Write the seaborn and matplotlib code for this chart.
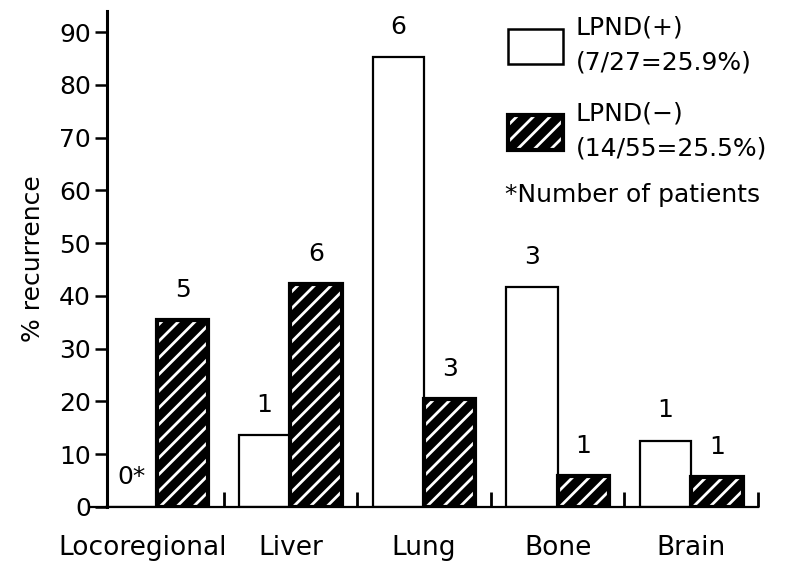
import matplotlib
matplotlib.use("Agg")
import matplotlib.pyplot as plt
import matplotlib.transforms as mtransforms
import seaborn as sns
import pandas as pd
from matplotlib.patches import Patch, Rectangle

# ---- data ----
sites = ["Locoregional", "Liver", "Lung", "Bone", "Brain"]
groups = ["LPND(+)\n(7/27=25.9%)", "LPND(\u2212)\n(14/55=25.5%)"]
lpnd_pos = [0.0, 13.6, 85.3, 41.6, 12.6]
lpnd_neg = [35.5, 42.2, 20.5, 5.9, 5.7]
n_pos = ["0*", "1", "6", "3", "1"]
n_neg = ["5", "6", "3", "1", "1"]
yticks = [0, 10, 20, 30, 40, 50, 60, 70, 80, 90]
footnote = "*Number of patients"

df = pd.DataFrame({
    "site": sites * 2,
    "group": [groups[0]] * len(sites) + [groups[1]] * len(sites),
    "value": lpnd_pos + lpnd_neg,
})

sns.set_style("white")
plt.rcParams["font.family"] = ["DejaVu Sans"]
plt.rcParams["hatch.linewidth"] = 2.0
for k in ["text.color", "axes.labelcolor", "xtick.color", "ytick.color"]:
    plt.rcParams[k] = "black"

fig = plt.figure(figsize=(8.06, 5.65), dpi=100)
ax = fig.add_axes([90 / 806, 1 - 507 / 565, (758 - 90) / 806, (507 - 11) / 565])

sns.barplot(data=df, x="site", y="value", hue="group", hue_order=groups,
            order=sites, palette={groups[0]: "white", groups[1]: "black"},
            width=0.77, edgecolor="black", linewidth=1.6, ax=ax,
            errorbar=None, legend=False)

pos_cont, neg_cont = ax.containers[0], ax.containers[1]
for p in neg_cont:
    p.set_facecolor("black")
    p.set_edgecolor("white")
    p.set_hatch("//")
    p.set_linewidth(0)
    ax.add_patch(Rectangle(p.get_xy(), p.get_width(), p.get_height(),
                           fill=False, edgecolor="black", linewidth=3.0,
                           zorder=p.get_zorder() + 0.1))

ax.bar_label(pos_cont, labels=n_pos, padding=13, fontsize=18)
ax.bar_label(neg_cont, labels=n_neg, padding=13, fontsize=18)

ax.set_xlim(-0.5, 4.5)
ax.set_ylim(0, 94)
ax.set_yticks(yticks)
ax.set_yticklabels([str(v) for v in yticks])
ax.set_xlabel("")
ax.set_ylabel("% recurrence", fontsize=18, labelpad=10)

for s in ["top", "right"]:
    ax.spines[s].set_visible(False)
ax.spines["left"].set_position(("data", -0.373))
ax.spines["left"].set_linewidth(2.2)
ax.spines["bottom"].set_linewidth(1.6)
ax.spines["left"].set_color("black")
ax.spines["bottom"].set_color("black")

ax.tick_params(axis="y", which="major", direction="out", length=8.5,
               width=1.8, pad=3, labelsize=18, left=True, colors="black")
ax.tick_params(axis="x", which="major", length=0, pad=20, labelsize=19,
               bottom=True, colors="black")
ax.set_xticks([0.5, 1.5, 2.5, 3.5, 4.5], minor=True)
ax.tick_params(axis="x", which="minor", direction="in", length=11,
               width=2, bottom=True)

# shift the long first category label a little to the left, as in the original
first = ax.get_xticklabels()[0]
first.set_transform(first.get_transform() +
                    mtransforms.ScaledTranslation(-14 / 100, 0, fig.dpi_scale_trans))

# legend
h_pos = Patch(facecolor="white", edgecolor="black", linewidth=1.8)
h_neg_fill = Patch(facecolor="black", edgecolor="white", hatch="//", linewidth=0)
h_neg_edge = Patch(facecolor="none", edgecolor="black", linewidth=3.0)
leg = fig.legend([h_pos, (h_neg_fill, h_neg_edge)], groups,
                 loc="upper left", bbox_to_anchor=(508 / 806, 1 - 16 / 565),
                 frameon=False, fontsize=18, handlelength=2.2,
                 handleheight=1.75, handletextpad=0.5, labelspacing=1.1,
                 borderpad=0, borderaxespad=0)
for t in leg.get_texts():
    t.set_linespacing(1.55)

fig.text(505 / 806, 1 - 195 / 565, footnote, fontsize=18, va="center",
         ha="left")

fig.savefig("out.png", dpi=100)
